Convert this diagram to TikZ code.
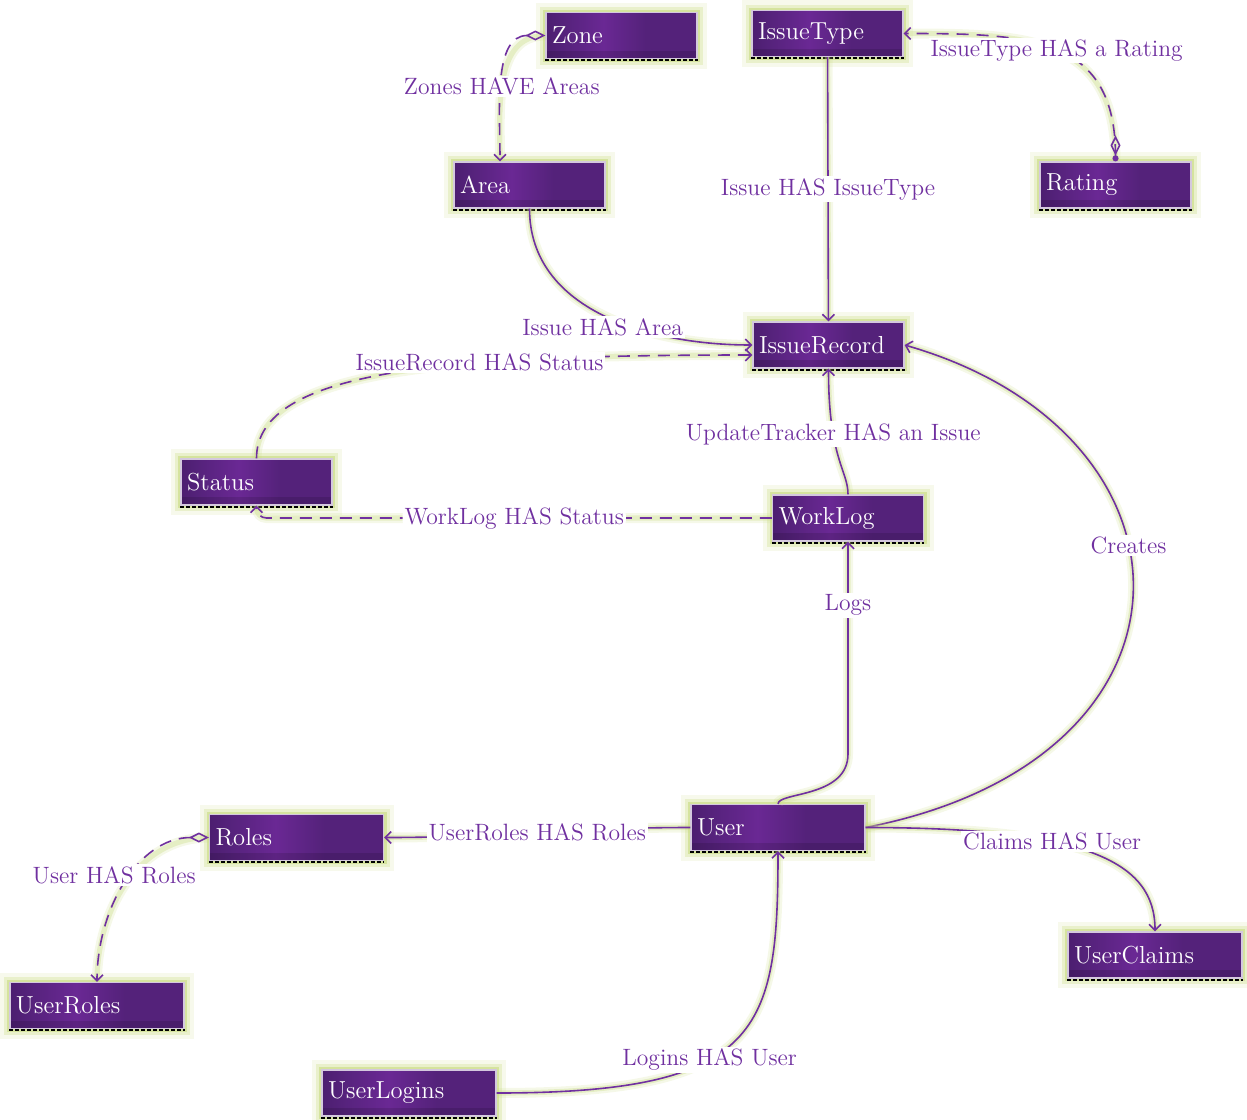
\documentclass[tikz,border=0pt]{standalone}
\usetikzlibrary{arrows.meta, positioning, calc}
\definecolor{boxdark}{RGB}{84,34,122}
\definecolor{boxedge}{RGB}{76,30,112}
\definecolor{boxlight}{RGB}{106,40,148}
\definecolor{linkpurple}{RGB}{112,48,160}
\definecolor{glowgreen}{RGB}{200,218,128}
\pgfdeclarehorizontalshading{boxshade}{100bp}{color(0bp)=(boxedge); color(25bp)=(boxedge); color(30bp)=(boxdark); color(44bp)=(boxlight); color(58bp)=(boxdark); color(100bp)=(boxdark)}
\tikzset{
  >={Straight Barb[length=3pt, width=6pt]}, % small open heads
  entity/.style={rectangle, shade, shading=boxshade, draw=white!75!boxdark, line width=0.6pt,
    text=white, font=\fontsize{12.3}{14}\selectfont, align=left,
    text width=69.5pt, minimum height=23pt, inner xsep=3pt, inner ysep=0pt,
    preaction={draw=glowgreen, line width=10pt, opacity=0.15},
    preaction={draw=glowgreen, line width=6pt, opacity=0.3},
    preaction={draw=glowgreen, line width=3pt, opacity=0.6},
    path picture={\fill[black, opacity=0.12] (path picture bounding box.south west) rectangle ([yshift=4pt]path picture bounding box.south east);},
    append after command={([yshift=-0.6pt]\tikzlastnode.south west) edge[draw=black, line width=0.9pt, dash pattern=on 2pt off 1pt] ([yshift=-0.6pt]\tikzlastnode.south east)}},
  wide/.style={entity, text width=81pt}, % the longer boxes
  link/.style={draw=linkpurple, line width=0.8pt, ->,
    preaction={draw=glowgreen, line width=5pt, opacity=0.18, arrows=-, solid},
    preaction={draw=glowgreen, line width=2.6pt, opacity=0.35, arrows=-, solid}},
  weak/.style={link, dash pattern=on 6pt off 4pt},
  lbl/.style={fill=white, text=linkpurple, font=\fontsize{11.8}{14}\selectfont, inner sep=1pt},
}
\begin{document}
\begin{tikzpicture}[x=0.5pt, y=-0.5pt]
  \useasboundingbox (0,0) rectangle (1247,1119);
  % entities
  \node[entity] (zone) at (621.5,35.5) {Zone};
  \node[entity] (issuetype) at (827.5,33.5) {IssueType};
  \node[entity] (area) at (529.5,185) {Area};
  \node[entity] (rating) at (1115.5,185) {Rating};
  \node[entity] (issuerecord) at (828.5,345) {IssueRecord};
  \node[entity] (status) at (256.5,482) {Status};
  \node[entity] (worklog) at (848,518) {WorkLog};
  \node[wide] (user) at (778,827.5) {User};
  \node[wide] (roles) at (296.5,837.5) {Roles};
  \node[wide] (userclaims) at (1155,955) {UserClaims};
  \node[wide] (userroles) at (97,1005.5) {UserRoles};
  \node[wide] (userlogins) at (409,1093) {UserLogins};

  % relations
  \draw[weak, {Diamond[open, length=10pt, width=5pt]}->] (zone.west) to[out=180, in=90]
    node[lbl, pos=0.55] {Zones HAVE Areas} ([xshift=-14.75pt]area.north);
  \draw[weak, {Circle[length=3pt]Diamond[open, length=10pt, width=5pt]}->] (rating.north) to[out=90, in=0, looseness=1.3]
    node[lbl, pos=0.5] {IssueType HAS a Rating} (issuetype.east);
  \draw[link] (issuetype) -- node[lbl] {Issue HAS IssueType} (issuerecord);
  \draw[link] (area.south) to[out=-90, in=180]
    node[lbl, pos=0.5, yshift=-6pt] {Issue HAS Area} (issuerecord.west);
  \draw[weak] (status.north) to[out=90, in=180, out distance=45pt, in distance=150pt]
    node[lbl, pos=0.65] {IssueRecord HAS Status} ([yshift=-5pt]issuerecord.west);
  \draw[link] (worklog.north) to[out=90, in=-90, out distance=12pt, in distance=45pt]
    node[lbl, pos=0.68] {UpdateTracker HAS an Issue} (issuerecord.south);
  \draw[weak, rounded corners=5pt] (worklog.west) -|
    node[lbl, pos=0.25] {WorkLog HAS Status} (status.south);
  \draw[link] (user.north) to[out=90, in=-90, out distance=6pt, in distance=22pt]
    ($(worklog.south |- user.north)+(0,-50)$) -- node[lbl, pos=0.7] {Logs} (worklog.south);
  \draw[link] (user.east) to[out=11, in=-16, out distance=180pt, in distance=160pt]
    node[lbl, pos=0.58] {Creates} (issuerecord.east);
  \draw[link] (user.west) to[out=180, in=0]
    node[lbl, pos=0.5] {UserRoles HAS Roles} (roles.east);
  \draw[link] (user.east) to[out=0, in=90, out distance=110pt, in distance=35pt]
    node[lbl, pos=0.37] {Claims HAS User} (userclaims.north);
  \draw[weak, {Diamond[open, length=10pt, width=5pt]}->] (roles.west) to[out=180, in=90]
    node[lbl, pos=0.45, xshift=-9pt] {User HAS Roles} (userroles.north);
  \draw[link] (userlogins.east) to[out=0, in=-90, out distance=132pt, in distance=90pt]
    node[lbl, pos=0.4] {Logins HAS User} (user.south);
\end{tikzpicture}
\end{document}
